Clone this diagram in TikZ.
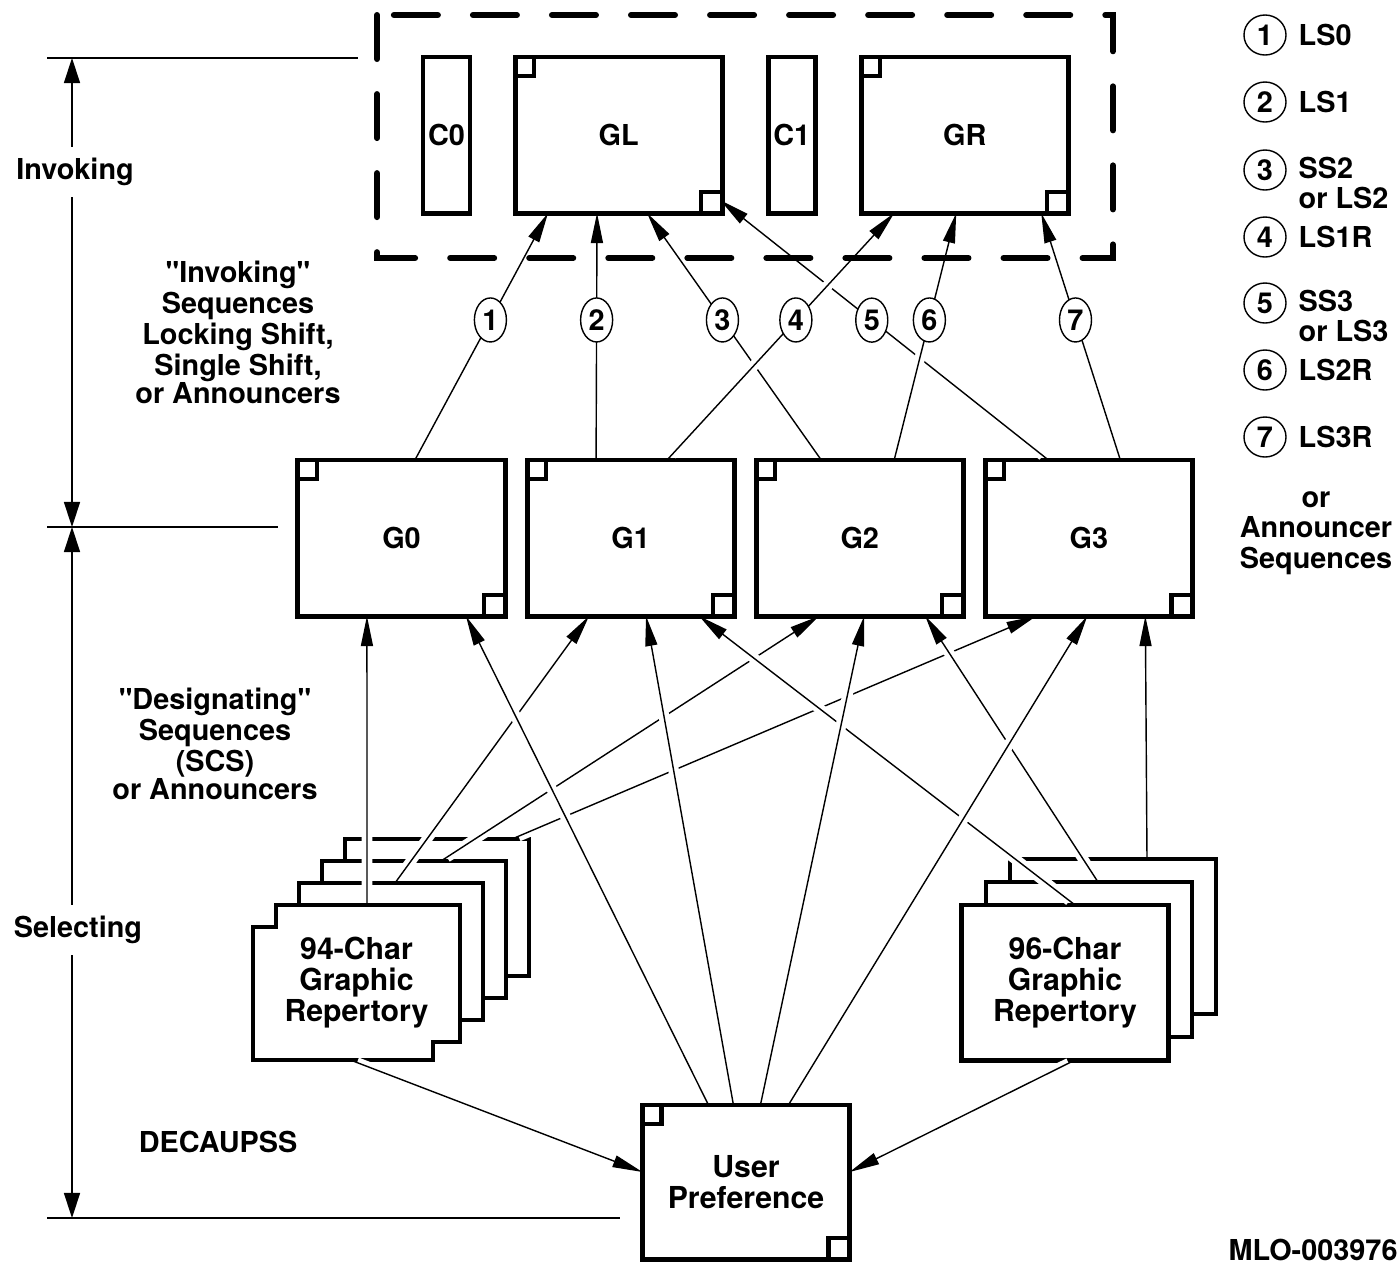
\documentclass[tikz,border=0pt]{standalone}
\usepackage{fontspec}
\setmainfont{TeX Gyre Heros}
\newfontfamily\hv{TeX Gyre Heros}
\usetikzlibrary{positioning,arrows.meta,calc,shapes.geometric}
\newcommand{\lab}{\hv\bfseries\fontsize{8.2}{7.8}\selectfont}
\newcommand{\labw}{\hv\bfseries\fontsize{8.2}{8.6}\selectfont}
\newcommand{\cardfont}{\hv\bfseries\fontsize{8.6}{8.9}\selectfont}
% small squares in two corners of a register box
\newcommand{\corners}[1]{%
  \draw[line width=1.2pt] (#1.north west) rectangle ++(19,19);
  \draw[line width=1.2pt] (#1.south east) rectangle ++(-21,-21);}
% one card of the 94-char stack, top-left corner at (#1,#2)
\newcommand{\cardA}[2]{%
  \draw[cardline] (#1,#2) ++(0,22) -- ++(23,0) -- ++(0,-22) -- ++(184,0)
    -- ++(0,137) -- ++(-27,0) -- ++(0,18) -- ++(-180,0) -- cycle;}
\tikzset{
  reg/.style    ={draw, line width=1.4pt, fill=white, minimum width=2.07cm,
                  minimum height=1.56cm, inner sep=0pt, outer sep=0pt, font=\lab},
  ctl/.style    ={reg, minimum width=0.47cm},
  card/.style   ={inner sep=0pt, outer sep=0pt, minimum width=2.07cm, minimum height=1.55cm,
                  align=center, font=\cardfont},
  cardline/.style={line width=1.4pt, fill=white},
  num/.style    ={ellipse, draw, thin, fill=white, minimum width=0.32cm,
                  minimum height=0.44cm, inner sep=0pt, font=\lab},
  key/.style    ={ellipse, draw, thin, minimum width=0.42cm, minimum height=0.4cm,
                  inner sep=0pt, font=\lab},
  note/.style   ={align=center, font=\lab},
  wire/.style   ={thin, -{Triangle[length=3mm, width=1.2mm]},
                  preaction={draw=white, line width=3pt, -, shorten <=2pt, shorten >=6pt}},
  dim/.style    ={thin, -{Triangle[length=2.5mm, width=1.6mm]}},
  frame/.style  ={line width=1.7pt, dash pattern=on 0.44cm off 0.35cm, line cap=round},
}

\begin{document}
\begin{tikzpicture}[x=0.01cm, y=-0.01cm]
  \useasboundingbox (0,0) rectangle (1399,1263);

  % invoked (in use) sets
  \node[ctl] (C0) at (446.5,135) {C0};
  \node[reg, right=0.45cm of C0] (GL) {GL};
  \node[ctl, right=0.46cm of GL] (C1) {C1};
  \node[reg, right=0.46cm of C1] (GR) {GR};
  \corners{GL} \corners{GR}

  % designated sets
  \node[reg] (G0) at (401.5,538) {G0};
  \node[reg, right=0.22cm of G0] (G1) {G1};
  \node[reg, right=0.22cm of G1] (G2) {G2};
  \node[reg, right=0.22cm of G2] (G3) {G3};
  \foreach \g in {G0,G1,G2,G3} {\corners{\g}}

  \node[reg, minimum height=1.54cm, align=center, font=\cardfont] (UP) at (746,1182) {User\\Preference};
  \corners{UP}

  % repertory stacks
  \foreach \k in {3,2,1} {\cardA{253+23*\k}{905-22*\k}}
  \cardA{253}{905}
  \node[card] (r94) at (356.5,982.5) {94-Char\\Graphic\\Repertory};
  \foreach \k in {2,1} {\draw[cardline] (962+24*\k,905-23*\k) rectangle ++(206,155);}
  \node[card, draw, line width=1.4pt, fill=white] (r96) at (1065,982.5) {96-Char\\Graphic\\Repertory};
  \coordinate (c94a) at (395,883);
  \coordinate (c94b) at (441,861);
  \coordinate (c94c) at (512,839);
  \coordinate (c96a) at (1098,882);
  \coordinate (c96b) at (1147,859);

  % invoking
  \draw[wire] ($(G0.north west)+(117,0)$) -- node[num, pos=0.567] (n1) {1} ($(GL.south west)+(33,0)$);
  \draw[wire] ($(G1.north west)+(69,0)$) -- node[num, pos=0.567] (n2) {2} ($(GL.south west)+(82,0)$);
  \draw[wire] ($(G3.north west)+(63,0)$) -- node[num, pos=0.538] (n5) {5} ($(GL.south east)+(-2,-13)$);
  \draw[wire] ($(G2.north west)+(65,0)$) -- node[num, pos=0.567] (n3) {3} ($(GL.south west)+(132,0)$);
  \draw[wire] ($(G2.north west)+(138,0)$) -- node[num, pos=0.567] (n6) {6} ($(GR.south west)+(95,0)$);
  \draw[wire] ($(G1.north west)+(140,0)$) -- node[num, pos=0.567] (n4) {4} ($(GR.south west)+(33,0)$);
  \draw[wire] ($(G3.north west)+(135,0)$) -- node[num, pos=0.567] (n7) {7} ($(GR.south west)+(180,0)$);

  % designating
  \draw[wire] ($(r94.north)+(10.5,0)$) -- ($(G0.south west)+(69,0)$);
  \draw[wire] (c94a) -- ($(G1.south west)+(62,0)$);
  \draw[wire] (c94b) -- ($(G2.south west)+(63,0)$);
  \draw[wire] (c94c) -- ($(G3.south west)+(51,0)$);
  \draw[wire] ($(r96.north)+(10,0)$) -- ($(G1.south west)+(172,0)$);
  \draw[wire] (c96a) -- ($(G2.south west)+(169,0)$);
  \draw[wire] (c96b) -- ($(G3.south west)+(160,0)$);
  \draw[wire] ($(UP.north west)+(66,0)$) -- ($(G0.south west)+(168,0)$);
  \draw[wire] ($(UP.north west)+(91,0)$) -- ($(G1.south west)+(119,0)$);
  \draw[wire] ($(UP.north west)+(118,0)$) -- ($(G2.south west)+(108,0)$);
  \draw[wire] ($(UP.north west)+(146,0)$) -- ($(G3.south west)+(102,0)$);

  % selecting
  \draw[wire] ($(r94.south)+(-6,0)$) -- ($(UP.west)+(0,-10)$);
  \draw[wire] ($(r96.south)+(10,0)$) -- ($(UP.east)+(0,-10)$);

  \draw[frame] (377,15) rectangle (1113,258);

  % left side labels and extents
  \node[note] (invseq) at (238,332) {"Invoking"\\Sequences\\Locking Shift,\\Single Shift,\\or Announcers};
  \node[note] (desseq) at (215,743.5) {"Designating"\\Sequences\\(SCS)\\or Announcers};
  \node[note] (decaup) at (218,1142) {DECAUPSS};

  \coordinate (t1) at (72,58);
  \coordinate (t2) at (72,527);
  \coordinate (t3) at (72,1218);
  \draw[thin] (47,58) -- (358,58);
  \draw[thin] (47,527) -- (278,527);
  \draw[thin] (47,1218) -- (620,1218);
  \node[note, fill=white, inner sep=3pt] (invk) at (75,172) {Invoking};
  \node[note, fill=white, inner sep=3pt] (selc) at (78,930) {Selecting};
  \draw[dim] (invk.north -| t1) -- (t1);
  \draw[dim] (invk.south -| t1) -- (t2);
  \draw[dim] (selc.north -| t1) -- (t2);
  \draw[dim] (selc.south -| t1) -- (t3);

  % key
  \foreach \n/\y/\t in {1/35/LS0, 2/102/LS1, 4/237/LS1R, 6/370/LS2R, 7/437/LS3R} {
    \node[key] (k\n) at (1265,\y) {\n};
    \node[anchor=west, inner sep=0pt, font=\lab] (kt\n) at (1298,\y) {\t};
  }
  \node[key] (k3) at (1265,170) {3};
  \node[anchor=west, inner sep=0pt, align=left, font=\labw] (kt3) at (1298,183) {SS2\\or LS2};
  \node[key] (k5) at (1265,303) {5};
  \node[anchor=west, inner sep=0pt, align=left, font=\labw] (kt5) at (1298,316) {SS3\\or LS3};
  \node[align=center, font=\labw] (orann) at (1316,533) {or\\Announcer\\Sequences};

  \node[font=\lab, anchor=base] (mlo) at (1313,1260) {MLO-003976};
\end{tikzpicture}
\end{document}
